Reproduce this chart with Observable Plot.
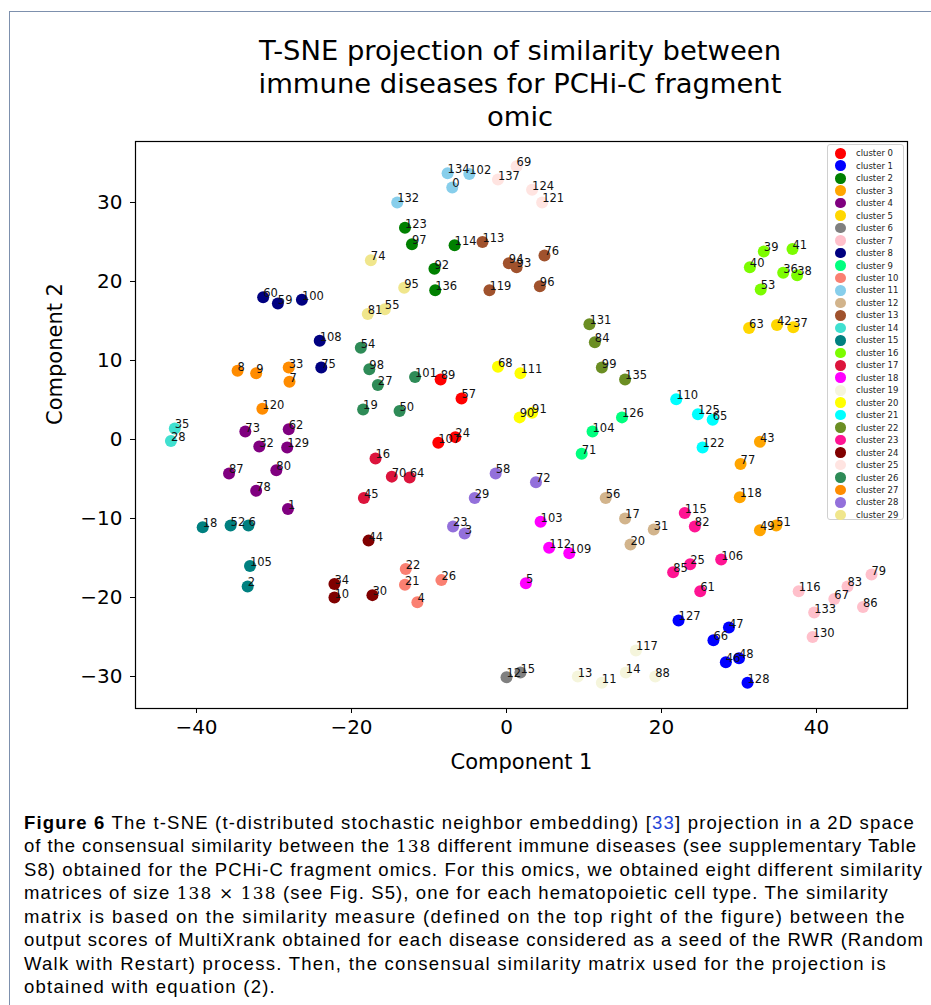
<!DOCTYPE html>
<html><head><meta charset="utf-8">
<script src="https://cdn.jsdelivr.net/npm/d3@7"></script>
<script src="https://cdn.jsdelivr.net/npm/@observablehq/plot@0.6"></script>
<style>
body{margin:0;background:#fff;}
#page{position:relative;width:931px;height:1005px;overflow:hidden;background:#fff;}
#border{position:absolute;left:9px;top:11px;width:1000px;height:1100px;border-left:1.5px solid #7d90ad;border-top:1.5px solid #7d90ad;}
#title{position:absolute;left:120px;width:800px;top:34px;text-align:center;font-family:"DejaVu Sans";font-size:27.4px;line-height:33px;color:#000;}
#chart{position:absolute;left:0;top:130px;}
#legend{position:absolute;left:827px;top:144px;width:77px;height:376px;box-sizing:border-box;border:1px solid #d0d0d0;border-radius:3px;background:rgba(255,255,255,0.85);font-family:"DejaVu Sans";font-size:8.5px;color:#222;}
#legend .row{position:absolute;left:0;height:12px;width:75px;}
#legend .sw{position:absolute;left:7px;top:0.7px;width:10.6px;height:10.6px;border-radius:50%;}
#legend .lb{position:absolute;left:28px;top:0;line-height:12px;white-space:nowrap;}
#caption{position:absolute;left:24px;top:811px;font-family:"Liberation Sans";font-size:18.5px;line-height:23.1px;color:#000;}
#caption .ln{white-space:nowrap;}
#caption .m{font-family:"DejaVu Serif";font-size:17px;}
#caption .lk{color:#2446d8;}
</style></head>
<body><div id="page">
<div id="border"></div>
<div id="title"><div>T-SNE projection of similarity between</div><div>immune diseases for PCHi-C fragment</div><div>omic</div></div>
<div id="chart"></div>
<div id="legend"></div>
<div id="caption">
<div class="ln" data-w="891"><span><b>Figure 6</b> The t-SNE (t-distributed stochastic neighbor embedding) [<span class="lk">33</span>] projection in a 2D space</span></div>
<div class="ln" data-w="893"><span>of the consensual similarity between the <span class="m">138</span> different immune diseases (see supplementary Table</span></div>
<div class="ln" data-w="899"><span>S8) obtained for the PCHi-C fragment omics. For this omics, we obtained eight different similarity</span></div>
<div class="ln" data-w="865"><span>matrices of size <span class="m">138 × 138</span> (see Fig. S5), one for each hematopoietic cell type. The similarity</span></div>
<div class="ln" data-w="882"><span>matrix is based on the similarity measure (defined on the top right of the figure) between the</span></div>
<div class="ln" data-w="900"><span>output scores of MultiXrank obtained for each disease considered as a seed of the RWR (Random</span></div>
<div class="ln" data-w="863"><span>Walk with Restart) process. Then, the consensual similarity matrix used for the projection is</span></div>
<div class="ln" data-w="252"><span>obtained with equation (2).</span></div>
</div>
</div>
<script>
// ---- data (label i = index i) ----
const xValues = [
-7.0,-28.2,-33.4,-5.4,-11.5,2.5,-33.3,-28.0,-34.7,-32.3,
-22.2,12.3,0.0,9.2,15.4,1.8,-16.9,15.3,-39.2,-18.5,
16.0,-13.1,-13.0,-6.9,-6.6,23.7,-8.4,-16.6,-43.3,-4.1,
-17.3,19.0,-31.9,-28.1,-22.2,-42.8,35.7,37.0,37.5,33.2,
31.4,36.9,34.9,32.7,-17.8,-18.4,28.3,28.7,30.0,32.7,
-13.8,34.8,-35.6,32.8,-18.8,-15.7,12.8,-5.8,-1.4,-29.5,
-31.4,25.0,-28.1,31.3,-12.5,26.6,26.7,42.3,-1.1,1.3,
-14.8,9.7,3.8,-33.7,-17.5,-23.9,4.9,30.2,-32.3,47.1,
-29.7,-17.9,24.3,44.0,11.4,21.5,46.0,-35.8,19.2,-8.5,
1.7,3.3,-9.3,1.3,0.3,-13.2,4.3,-12.2,-17.7,12.3,
-26.4,-11.8,-4.8,4.4,11.1,-33.1,27.7,-8.8,-24.1,8.1,
21.9,1.8,5.5,-3.1,-6.7,23.0,37.7,16.7,30.1,-2.2,
-31.5,4.6,25.3,-13.1,3.3,24.7,14.9,22.2,31.1,-28.3,
39.5,10.7,-14.1,39.7,-7.6,15.3,-9.2,-1.1];
const yValues = [
31.9,-8.8,-18.6,-11.9,-20.6,-18.2,-10.9,7.3,8.7,8.4,
-20.0,-30.8,-30.1,-30.0,-29.5,-29.5,-2.4,-10.0,-11.1,3.8,
-13.3,-18.4,-16.4,-11.0,0.3,-15.8,-17.8,6.9,-0.2,-7.4,
-19.7,-11.4,-0.9,9.1,-18.3,1.4,21.1,14.2,20.8,23.8,
21.8,24.1,14.5,-0.3,-12.8,-7.4,-28.2,-23.8,-27.7,-11.5,
3.6,-10.9,-10.9,19.0,11.6,16.5,-7.4,5.2,-4.3,17.2,
18.0,-19.2,1.3,14.1,-4.8,2.5,-25.4,-20.2,9.2,34.6,
-4.7,-1.8,-5.4,1.0,22.7,9.1,23.3,-3.1,-6.5,-17.1,
-3.9,15.9,-11.0,-18.6,12.3,-16.8,-21.2,-4.3,-30.0,7.6,
2.8,3.4,21.6,21.8,22.3,19.2,19.4,24.7,8.9,9.1,
17.7,7.9,33.6,-10.4,1.0,-16.0,-15.2,-0.4,12.5,-14.4,
5.1,8.4,-13.7,25.0,24.6,-9.3,-19.2,-26.7,-7.3,18.9,
3.9,30.0,-1.0,26.8,31.6,3.2,2.8,-22.9,-30.8,-1.0,
-25.0,14.6,30.0,-21.9,33.7,7.6,18.9,32.9];
const clusterOf = [
11,4,15,28,10,18,15,27,27,27,
24,19,6,19,19,6,17,12,15,26,
12,10,10,28,0,23,10,26,14,28,
24,12,4,27,24,14,16,5,16,16,
16,16,5,3,24,17,1,1,1,3,
26,3,15,16,26,29,12,0,28,8,
8,23,4,5,17,21,1,7,20,25,
17,9,28,4,29,8,13,3,4,7,
4,29,23,7,22,23,7,4,19,0,
20,20,2,13,13,29,13,2,26,22,
8,26,11,18,9,15,23,0,8,18,
21,20,18,13,2,23,7,19,3,13,
27,25,21,2,25,21,9,1,1,4,
7,22,11,7,11,22,2,25];
const clusterColors = ["#ff0000","#0000ff","#008000","#ffa500","#800080","#ffd700","#808080","#ffc0cb","#000080","#00ff7f",
"#fa8072","#87ceeb","#d2b48c","#a0522d","#40e0d0","#008080","#7cfc00","#dc143c","#ff00ff","#f5f5dc",
"#ffff00","#00ffff","#6b8e23","#ff1493","#800000","#ffe4e1","#2e8b57","#ff8c00","#9370db","#f0e68c"];
const clusterNames = clusterColors.map((c, i) => "cluster " + i);
const xTicks = [-40, -20, 0, 20, 40];
const yTicks = [-30, -20, -10, 0, 10, 20, 30];
const xLabel = "Component 1";
const yLabel = "Component 2";

const data = xValues.map((x, i) => ({label: String(i), x, y: yValues[i], cluster: clusterNames[clusterOf[i]], c: clusterOf[i]}));
const dotsOrder = d3.sort(data, d => d.c, d => +d.label);

const chart = Plot.plot({
  width: 931, height: 660,
  marginTop: 11, marginBottom: 82, marginLeft: 135, marginRight: 24,
  style: {fontFamily: "DejaVu Sans", fontSize: "20px", color: "#000", background: "transparent", overflow: "visible"},
  x: {domain: [-47.87, 51.74]},
  y: {domain: [-34.05, 37.72]},
  color: {domain: clusterNames, range: clusterColors},
  marks: [
    Plot.axisX({ticks: xTicks, tickSize: 5, tickPadding: 6, label: null, fontSize: 20, stroke: "#000"}),
    Plot.axisY({ticks: yTicks, tickSize: 5, tickPadding: 8, label: null, fontSize: 20, stroke: "#000"}),
    Plot.dot(dotsOrder, {x: "x", y: "y", fill: "cluster", r: 6}),
    Plot.text(data, {x: "x", y: "y", text: "label", textAnchor: "start", lineAnchor: "bottom", fontSize: 11.5, fill: "#111"}),
    Plot.frame({stroke: "#000", strokeWidth: 1.2}),
    Plot.text([xLabel], {frameAnchor: "bottom", text: d => d, dy: 54, fontSize: 21, lineAnchor: "middle", fill: "#000"}),
    Plot.text([yLabel], {frameAnchor: "left", text: d => d, dx: -80, rotate: -90, fontSize: 21, lineAnchor: "middle", fill: "#000"})
  ]
});
document.getElementById("chart").appendChild(chart);

// legend
const lg = document.getElementById("legend");
clusterNames.forEach((name, i) => {
  const row = document.createElement("div");
  row.className = "row";
  row.style.top = (2.3 + i * 12.47) + "px";
  const sw = document.createElement("div");
  sw.className = "sw";
  sw.style.background = clusterColors[i];
  const lb = document.createElement("div");
  lb.className = "lb";
  lb.textContent = name;
  row.appendChild(sw); row.appendChild(lb);
  lg.appendChild(row);
});

// caption line fitting: spread the gap over letters
document.querySelectorAll("#caption .ln").forEach(ln => {
  const w = +ln.dataset.w;
  if (!w) return;
  const sp = ln.firstElementChild;
  const nat = sp.getBoundingClientRect().width;
  const chars = sp.textContent.length;
  ln.style.letterSpacing = ((w - nat) / chars) + "px";
});
</script>
</body></html>
